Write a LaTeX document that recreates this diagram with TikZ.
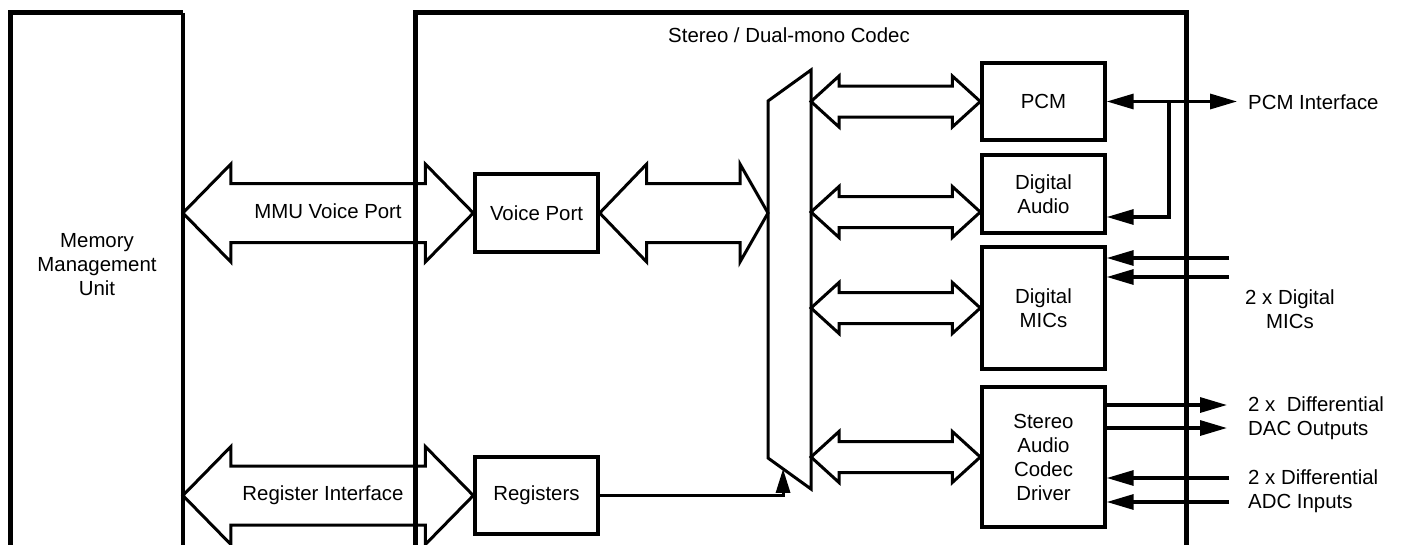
\documentclass[tikz,border=0pt]{standalone}
\usepackage{fontspec}
\setmainfont{Liberation Sans}
\usetikzlibrary{arrows.meta,calc}

\tikzset{
  box/.style={draw, line width=3.4pt, minimum width=123pt, inner sep=0pt, align=center, fill=white},
  lbl/.style={inner sep=0pt, align=center},
  frame/.style={minimum width=#1, minimum height=547pt, inner sep=0pt},
  fat/.style={draw, fill=white, line width=3pt, line join=miter},
  conn/.style={line width=3.2pt, -{Triangle[length=27pt,width=15pt]}},
  conntwo/.style={line width=3.2pt, {Triangle[length=27pt,width=15pt]}-{Triangle[length=27pt,width=15pt]}},
  connup/.style={line width=3pt, -{Triangle[length=24pt,width=14pt]}},
  outerline/.style={line width=4.8pt, line join=miter},
}

% double block arrow: left tip, right tip, left head length, right head length, head half width, shaft half width
\newcommand\dblarrow[6]{%
  \draw[fat] let \p1=(#1), \p2=(#2) in
    (\x1,\y1) -- (\x1+#3,\y1+#5) -- (\x1+#3,\y1+#6) -- (\x2-#4,\y1+#6) -- (\x2-#4,\y1+#5)
    -- (\x2,\y1) -- (\x2-#4,\y1-#5) -- (\x2-#4,\y1-#6) -- (\x1+#3,\y1-#6) -- (\x1+#3,\y1-#5) -- cycle;}

\begin{document}
\begin{tikzpicture}[x=1pt,y=-1pt, font=\fontsize{20.4}{24}\selectfont]
\useasboundingbox (0,0) rectangle (1402,544);

% outer frames (borders drawn later)
\node[frame=171.9pt] (mmu) at (96.75,286.5) {};
\node[frame=770.2pt] (codec) at (800.9,286.5) {};

% inner blocks
\node[box, minimum height=78pt] (vp) at (536.5,213) {Voice Port};
\node[box, minimum height=77pt] (reg) at (536.5,495.5) {Registers};
\node[box, minimum height=77pt] (pcm) at (1043.5,101.5) {PCM};
\node[box, minimum height=78pt] (da) at (1043.5,194) {Digital\\Audio};
\node[box, minimum height=122pt] (mic) at (1043.5,308) {Digital\\MICs};
\node[box, minimum height=140pt] (sacd) at (1043.5,457) {Stereo\\Audio\\Codec\\Driver};

% mux
\coordinate (muxTL) at (768,101);
\coordinate (muxTR) at (811,70);
\coordinate (muxBR) at (811,489);
\coordinate (muxBL) at (768,458);
\coordinate (daIn) at ([yshift=-18pt]da.west);

% block arrows
\dblarrow{mmu.east |- vp.west}{vp.west}{48}{48}{49}{29.5}
\dblarrow{mmu.east |- reg.west}{reg.west}{48}{48}{49}{29.5}
\dblarrow{vp.east}{muxTL |- vp.east}{47}{28}{49}{29.5}
\dblarrow{muxTR |- pcm.west}{pcm.west}{28}{28}{25.5}{15.5}
\dblarrow{muxTR |- daIn}{daIn}{28}{28}{25.5}{15.5}
\dblarrow{muxTR |- mic.west}{mic.west}{28}{28}{25.5}{15.5}
\dblarrow{muxTR |- sacd.west}{sacd.west}{28}{28}{25.5}{15.5}

\draw[line width=3pt, line join=miter] (muxTL) -- (muxTR) -- (muxBR) -- (muxBL) -- cycle;

% registers to mux
\coordinate (muxIn) at ($(muxBL)!0.35!(muxBR)$);
\draw[connup] (reg.east) -| (muxIn);

% PCM interface
\coordinate (pcmR) at (1237,101.5);
\coordinate (pcmJ) at (1169,101.5);
\coordinate (daOut) at ([yshift=-23pt]da.east);
\draw[conntwo] (pcm.east) -- (pcmR);
\draw[conn] (pcmJ) |- (daOut);

% digital mics
\coordinate (mica) at (1229,258);
\coordinate (micb) at (1229,277);
\draw[conn] (mica) -- (mica -| mic.east);
\draw[conn] (micb) -- (micb -| mic.east);

% DAC outputs
\coordinate (daca) at (1227,405);
\coordinate (dacb) at (1227,428);
\draw[conn] (daca -| sacd.east) -- (daca);
\draw[conn] (dacb -| sacd.east) -- (dacb);

% ADC inputs
\coordinate (adca) at (1229,478);
\coordinate (adcb) at (1229,502);
\draw[conn] (adca) -- (adca -| sacd.east);
\draw[conn] (adcb) -- (adcb -| sacd.east);

% outer borders
\draw[outerline] (mmu.south west) -- (mmu.north west) -- (mmu.north east);
\draw[line width=3.2pt] (mmu.north east) -- (mmu.south east);
\draw[outerline] (codec.south west) -- (codec.north west) -- (codec.north east) -- (codec.south east);

% labels
\node[lbl, anchor=base] (title) at (789,42.7) {Stereo / Dual-mono Codec};
\node[lbl] (mmutxt) at (97,265) {Memory\\Management\\Unit};
\node[lbl, anchor=base] (vplbl) at (328,218) {MMU Voice Port};
\node[lbl, anchor=base] (rilbl) at (323,500.5) {Register Interface};
\node[lbl, anchor=base west] (pcmif) at (1248,109) {PCM Interface};
\node[lbl] (miclbl) at (1290,309.7) {2 x Digital\\MICs};
\node[lbl, anchor=west, align=left] (daclbl) at (1248,418) {2 x\ \ Differential\\DAC Outputs};
\node[lbl, anchor=west, align=left] (adclbl) at (1248,491) {2 x Differential\\ADC Inputs};
\end{tikzpicture}
\end{document}
